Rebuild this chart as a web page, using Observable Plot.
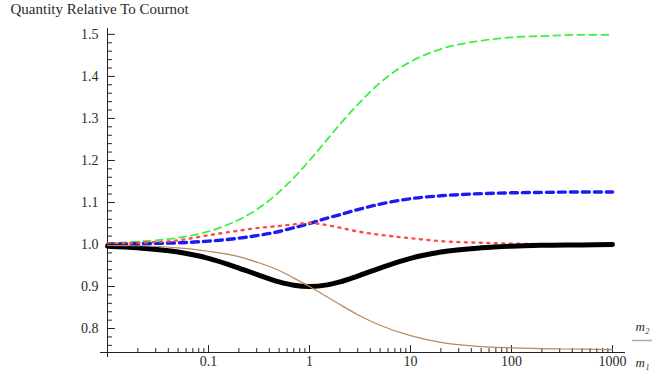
<!DOCTYPE html>
<html>
<head>
<meta charset="utf-8">
<script src="https://cdn.jsdelivr.net/npm/d3@7"></script>
<script src="https://cdn.jsdelivr.net/npm/@observablehq/plot@0.6"></script>
<style>
  html, body { margin: 0; padding: 0; background: #fff; }
  #chart svg { display: block; }
</style>
</head>
<body>
<div id="chart"></div>
<script>
// ---- data ----
const title = "Quantity Relative To Cournot";
const xs    = [0.01, 0.02, 0.05, 0.1, 0.2, 0.3, 0.5, 0.7, 1, 1.5, 2, 3, 5, 10, 20, 50, 100, 200, 500, 1000];
const green = [1.003, 1.007, 1.016, 1.031, 1.059, 1.083, 1.125, 1.159, 1.200, 1.250, 1.286, 1.333, 1.385, 1.435, 1.465, 1.485, 1.493, 1.496, 1.499, 1.499];
const blue  = [1.001, 1.002, 1.004, 1.008, 1.015, 1.021, 1.031, 1.040, 1.050, 1.063, 1.071, 1.083, 1.096, 1.109, 1.116, 1.121, 1.123, 1.124, 1.125, 1.125];
const red   = [1.002, 1.004, 1.010, 1.022, 1.033, 1.039, 1.044, 1.048, 1.051, 1.046, 1.040, 1.031, 1.023, 1.015, 1.008, 1.004, 1.002, 1.001, 1.000, 1.000];
const black = [0.996, 0.992, 0.982, 0.967, 0.944, 0.929, 0.911, 0.903, 0.900, 0.904, 0.911, 0.925, 0.944, 0.967, 0.982, 0.992, 0.996, 0.998, 0.999, 1.000];
const brown = [0.998, 0.997, 0.992, 0.984, 0.971, 0.958, 0.938, 0.920, 0.900, 0.875, 0.857, 0.833, 0.808, 0.783, 0.767, 0.757, 0.754, 0.752, 0.751, 0.750];

const xDomain = [0.01, 1000];
const yDomain = [0.743, 1.514];
const xMajor = [0.01, 0.1, 1, 10, 100, 1000];
const xLabels = [0.1, 1, 10, 100, 1000];
const xLabelText = ["0.1", "1", "10", "100", "1000"];
const yLabels = [0.8, 0.9, 1.0, 1.1, 1.2, 1.3, 1.4, 1.5];
const yMinor = [0.76, 0.78, 0.82, 0.84, 0.86, 0.88, 0.92, 0.94, 0.96, 0.98, 1.02, 1.04, 1.06, 1.08, 1.12, 1.14, 1.16, 1.18, 1.22, 1.24, 1.26, 1.28, 1.32, 1.34, 1.36, 1.38, 1.42, 1.44, 1.46, 1.48];
const xMinor = [];
for (const d of [0.01, 0.1, 1, 10, 100]) for (let k = 2; k <= 9; k++) xMinor.push(+(d * k).toPrecision(3));
const xLabelLegend = ["m\u2082", "m\u2081"];

// ---- build table ----
const series = [
  {name: "green", values: green},
  {name: "blue", values: blue},
  {name: "red", values: red},
  {name: "black", values: black},
  {name: "brown", values: brown}
];
const rows = name => xs.map((x, i) => ({x, y: series.find(s => s.name === name).values[i]}));

const tickShape = {draw(context, l) { context.moveTo(0, 0); context.lineTo(0, -l); }};
const serif = "'Liberation Serif', 'Times New Roman', 'DejaVu Serif', serif";
const ink = "#2a2a2a";

const chart = Plot.plot({
  width: 652,
  height: 374,
  marginLeft: 107,
  marginRight: 40,
  marginTop: 28,
  marginBottom: 22,
  style: {fontFamily: serif, fontSize: "14px", color: ink, background: "#fff"},
  x: {type: "log", domain: xDomain},
  y: {domain: yDomain},
  marks: [
    // axis lines
    Plot.ruleY([yDomain[0]], {stroke: "#222", strokeWidth: 1, insetLeft: -7, insetRight: -13}),
    Plot.ruleX([xDomain[0]], {stroke: "#222", strokeWidth: 1, insetBottom: -5}),
    // inward ticks
    Plot.vector(yLabels, {y: d => d, frameAnchor: "left", length: 7, rotate: 90, anchor: "start", shape: tickShape, stroke: "#222", strokeWidth: 1}),
    Plot.vector(yMinor, {y: d => d, frameAnchor: "left", length: 4, rotate: 90, anchor: "start", shape: tickShape, stroke: "#222", strokeWidth: 1}),
    Plot.vector(xMajor, {x: d => d, frameAnchor: "bottom", length: 7, rotate: 0, anchor: "start", shape: tickShape, stroke: "#222", strokeWidth: 1}),
    Plot.vector(xMinor, {x: d => d, frameAnchor: "bottom", length: 4, rotate: 0, anchor: "start", shape: tickShape, stroke: "#222", strokeWidth: 1}),
    // tick labels
    Plot.axisY(yLabels, {tickSize: 0, tickPadding: 9, tickFormat: d3.format(".1f"), fontSize: 14, fill: ink, label: null}),
    Plot.axisX(xLabels, {tickSize: 0, tickPadding: 4, tickFormat: d => xLabelText[xLabels.indexOf(d)], fontSize: 14, fill: ink, label: null}),
    // curves
    Plot.line(rows("green"), {x: "x", y: "y", stroke: "#3ef03e", strokeWidth: 1.8, strokeDasharray: "7,5", curve: "monotone-x"}),
    Plot.line(rows("blue"), {x: "x", y: "y", stroke: "#1c1cf0", strokeWidth: 3.4, strokeDasharray: "7,5", curve: "monotone-x"}),
    Plot.line(rows("red"), {x: "x", y: "y", stroke: "#ff4a4a", strokeWidth: 2.4, strokeDasharray: "2,5.5", curve: "monotone-x"}),
    Plot.line(rows("black"), {x: "x", y: "y", stroke: "#000", strokeWidth: 5, curve: "monotone-x"}),
    Plot.line(rows("brown"), {x: "x", y: "y", stroke: "#b8875a", strokeWidth: 1.2, curve: "monotone-x"}),
    // title
    Plot.text([title], {text: d => d, frameAnchor: "top-left", dx: -97, dy: -15, textAnchor: "start", lineAnchor: "bottom", fontSize: 15, letterSpacing: 0.2, fill: ink}),
    // x-axis label (fraction) at the right edge
    Plot.text([xLabelLegend[0]], {text: d => d, frameAnchor: "bottom-right", dx: 23, dy: -22, textAnchor: "start", lineAnchor: "bottom", fontSize: 13, fontStyle: "italic", fill: ink}),
    Plot.ruleY([yDomain[0]], {dy: -12, insetLeft: 525, insetRight: -45, stroke: "#aaa", strokeWidth: 1.5}),
    Plot.text([xLabelLegend[1]], {text: d => d, frameAnchor: "bottom-right", dx: 23, dy: 14, textAnchor: "start", lineAnchor: "bottom", fontSize: 13, fontStyle: "italic", fill: ink})
  ]
});
document.getElementById("chart").appendChild(chart);
</script>
</body>
</html>
